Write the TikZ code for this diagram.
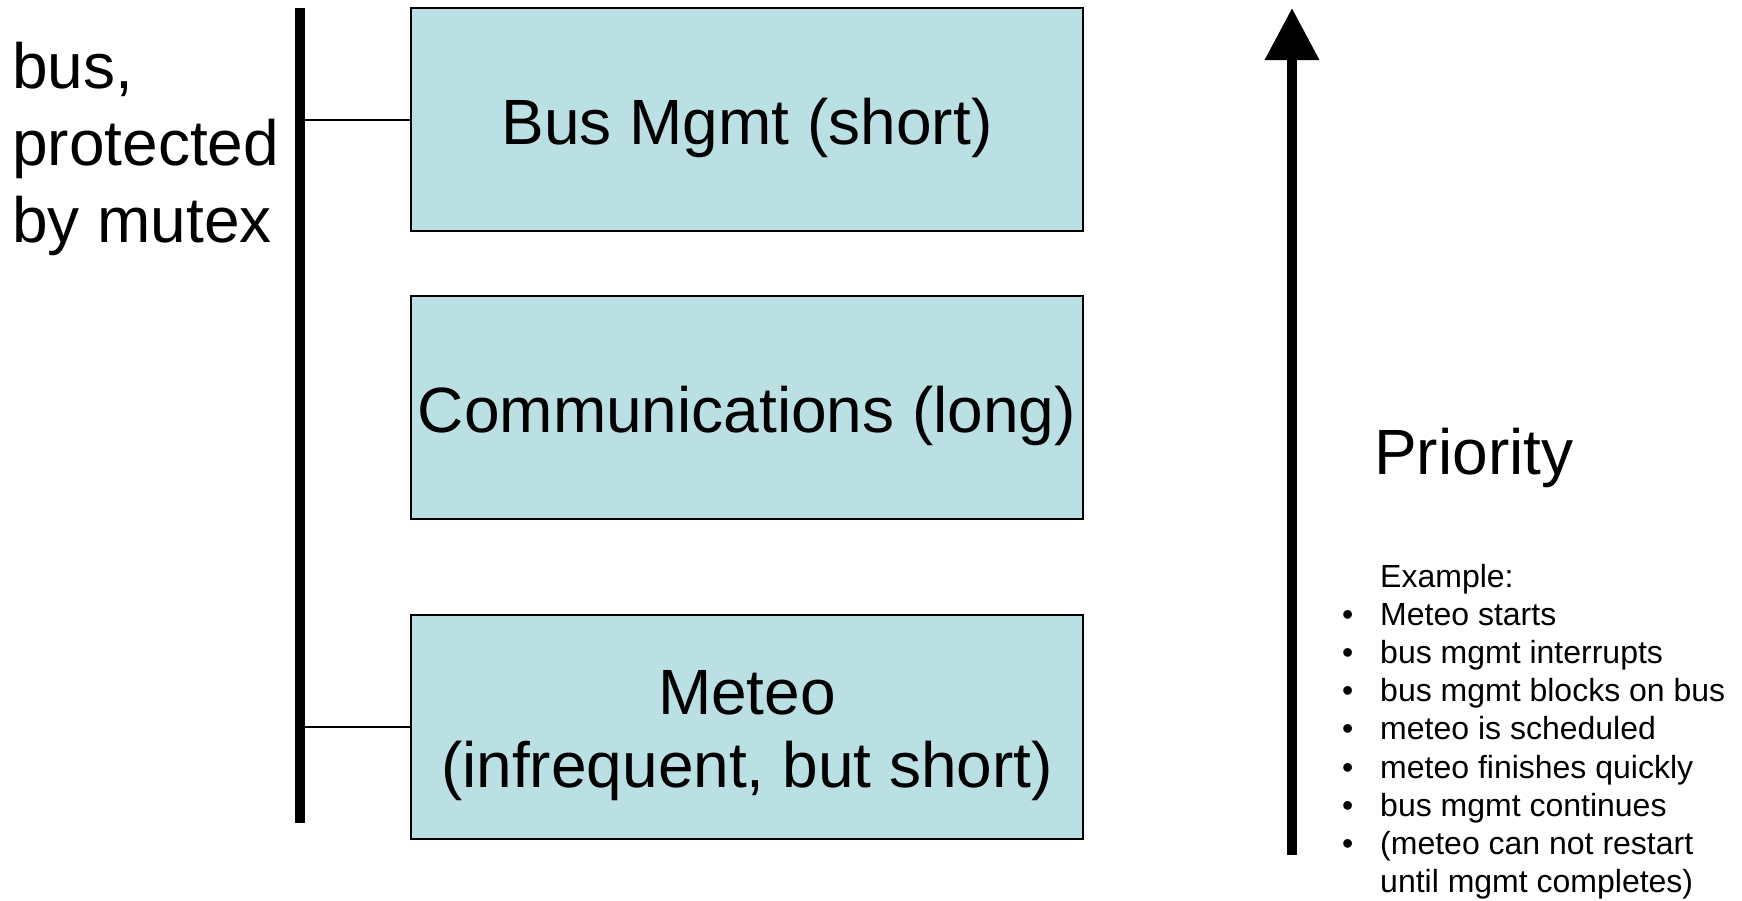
\documentclass[tikz,border=0pt]{standalone}
\usepackage{fontspec}
\setmainfont{Liberation Sans}
\usetikzlibrary{arrows.meta}
\definecolor{boxfill}{RGB}{187,224,227}
\begin{document}
\begin{tikzpicture}[x=1pt,y=-1pt,
  taskbox/.style={draw=black, line width=2pt, fill=boxfill, inner sep=0pt,
    minimum width=672pt},
  boxlabel/.style={inner sep=0pt, align=center, font=\fontsize{64}{73}\selectfont},
  bigline/.style={anchor=base west, inner sep=0pt, font=\fontsize{64}{77}\selectfont},
  smallline/.style={anchor=base west, inner sep=0pt, font=\fontsize{32}{37}\selectfont},
  bulletmark/.style={anchor=base west, inner sep=0pt, font=\fontsize{32}{37}\selectfont},
  thickbar/.style={line width=10pt},
  thinlink/.style={line width=2pt},
]
\useasboundingbox (0,0) rectangle (1742,900);

% task boxes
\node[taskbox, minimum height=223pt] (bus) at (747,119.5) {};
\node[taskbox, minimum height=223pt] (comm) at (747,407.5) {};
\node[taskbox, minimum height=224pt] (meteo) at (747,727) {};
\node[boxlabel] (busl) at ([yshift=-8pt]bus.center) {Bus Mgmt (short)};
\node[boxlabel] (comml) at ([yshift=-8pt]comm.center) {Communications (long)};
\node[boxlabel] (meteol) at ([yshift=-9pt]meteo.center) {Meteo\\(infrequent, but short)};

% bus bar
\coordinate (bartop) at (300,8);
\coordinate (barbot) at (300,823);
\draw[thickbar] (bartop) -- (barbot);
\draw[thinlink] (bus.west) -- (bus.west -| bartop);
\draw[thinlink] (meteo.west) -- (meteo.west -| bartop);

% left label
\node[bigline] (l1) at (12,88) {bus,};
\node[bigline] (l2) at (12,165) {protected};
\node[bigline] (l3) at (12,242) {by mutex};

% priority arrow
\coordinate (arrbot) at (1292,855);
\coordinate (arrtop) at (1292,8);
\draw[thickbar, -{Triangle[length=52pt,width=52pt]}] (arrbot) -- (arrtop);
\node[anchor=base west, inner sep=0pt, font=\fontsize{64}{77}\selectfont] (prio) at (1374,474) {Priority};

% example list
\node[smallline] (e0) at (1380,587) {Example:};
\node[bulletmark] (b1) at (1342,625.2) {•};
\node[smallline] (e1) at (1380,625.2) {Meteo starts};
\node[bulletmark] (b2) at (1342,663.4) {•};
\node[smallline] (e2) at (1380,663.4) {bus mgmt interrupts};
\node[bulletmark] (b3) at (1342,701.6) {•};
\node[smallline] (e3) at (1380,701.6) {bus mgmt blocks on bus};
\node[bulletmark] (b4) at (1342,739.8) {•};
\node[smallline] (e4) at (1380,739.8) {meteo is scheduled};
\node[bulletmark] (b5) at (1342,778) {•};
\node[smallline] (e5) at (1380,778) {meteo finishes quickly};
\node[bulletmark] (b6) at (1342,816.2) {•};
\node[smallline] (e6) at (1380,816.2) {bus mgmt continues};
\node[bulletmark] (b7) at (1342,854.4) {•};
\node[smallline] (e7) at (1380,854.4) {(meteo can not restart};
\node[smallline] (e8) at (1380,892.6) {until mgmt completes)};
\end{tikzpicture}
\end{document}
